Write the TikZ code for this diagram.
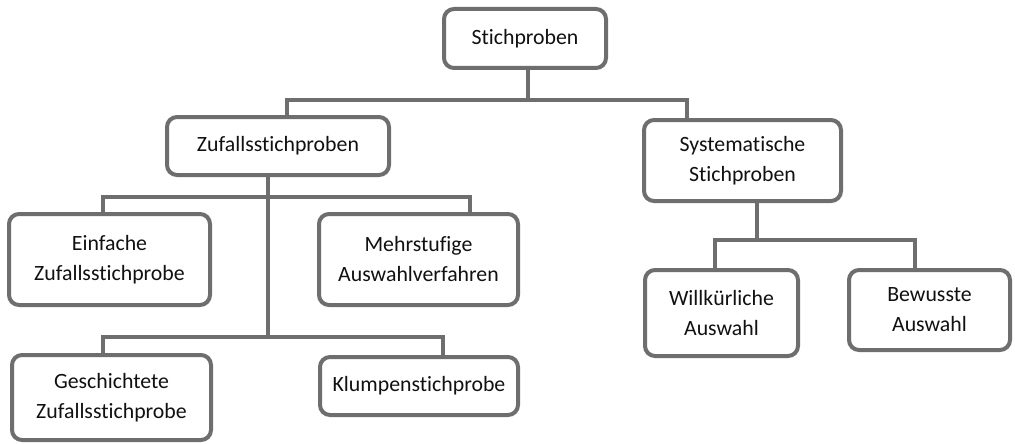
\documentclass[tikz,border=0pt]{standalone}
\usepackage{fontspec}
\setmainfont{Carlito}[Ligatures=NoCommon]
\definecolor{linegray}{HTML}{6E6E6E}
\definecolor{textgray}{HTML}{111111}
\begin{document}
\begin{tikzpicture}[x=1pt,y=-1pt,
  box/.style={draw=linegray, line width=4pt, rounded corners=10pt, fill=white,
    align=center, inner sep=0pt, text=textgray,
    font=\fontsize{21.8pt}{30pt}\selectfont},
  conn/.style={draw=linegray, line width=4pt}]
\useasboundingbox (0,0) rectangle (1015,444);
\node[box, minimum width=162pt, minimum height=59pt] (root) at (525,38.5) {Stichproben};
\node[box, minimum width=222pt, minimum height=58pt] (zuf) at (278,146) {Zufallsstichproben};
\node[box, minimum width=197pt, minimum height=81pt] (sys) at (742.5,160.5) {Systematische\\Stichproben};
\node[box, minimum width=201pt, minimum height=91pt] (einf) at (109.5,259.5) {Einfache\\Zufallsstichprobe};
\node[box, minimum width=199pt, minimum height=91pt] (mehr) at (418.5,259.5) {Mehrstufige\\Auswahlverfahren};
\node[box, minimum width=199pt, minimum height=85pt] (gesch) at (111.5,397.5) {Geschichtete\\Zufallsstichprobe};
\node[box, minimum width=198pt, minimum height=58pt] (klump) at (419,386) {Klumpenstichprobe};
\node[box, minimum width=153pt, minimum height=86pt] (will) at (721.5,313) {Willkürliche\\Auswahl};
\node[box, minimum width=161pt, minimum height=80pt, text depth=0pt] (bew) at (929.5,310) {Bewusste\\Auswahl};
% bus coordinates
\coordinate (r1) at (528,100);
\coordinate (r2) at (287,100);
\coordinate (r3) at (687,100);
\coordinate (z1) at (268,197);
\coordinate (z2) at (103,197);
\coordinate (z3) at (470,197);
\coordinate (z4) at (268,337);
\coordinate (z5) at (103,337);
\coordinate (z6) at (443,337);
\coordinate (s1) at (757,240);
\coordinate (s2) at (715,240);
\coordinate (s3) at (915,240);
\draw[conn] (root.south -| r1) -- (r1);
\draw[conn] (zuf.north -| r2) -- (r2) -- (r3) -- (sys.north -| r3);
\draw[conn] (zuf.south -| z1) -- (z4);
\draw[conn] (einf.north -| z2) -- (z2) -- (z3) -- (mehr.north -| z3);
\draw[conn] (gesch.north -| z5) -- (z5) -- (z6) -- (klump.north -| z6);
\draw[conn] (sys.south -| s1) -- (s1);
\draw[conn] (will.north -| s2) -- (s2) -- (s3) -- (bew.north -| s3);
\end{tikzpicture}
\end{document}
